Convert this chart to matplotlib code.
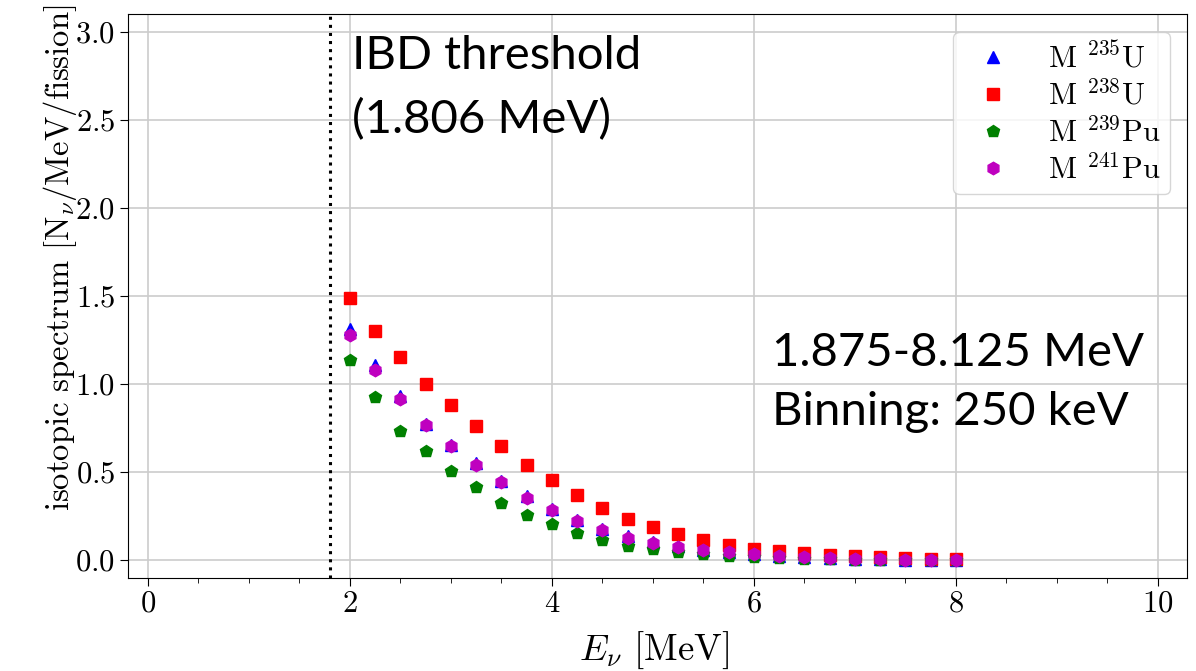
import matplotlib
matplotlib.use("Agg")
import matplotlib.pyplot as plt
from matplotlib.ticker import MultipleLocator

plt.rcParams['font.family'] = 'serif'
plt.rcParams['font.serif'] = ['cmr10']
plt.rcParams['mathtext.fontset'] = 'cm'
plt.rcParams['axes.formatter.use_mathtext'] = True

# bin centres (MeV)
energy = [2.0, 2.25, 2.5, 2.75, 3.0, 3.25, 3.5, 3.75, 4.0, 4.25, 4.5, 4.75, 5.0,
          5.25, 5.5, 5.75, 6.0, 6.25, 6.5, 6.75, 7.0, 7.25, 7.5, 7.75, 8.0]

u235 = [1.31, 1.11, 0.93, 0.775, 0.655, 0.55, 0.45, 0.365, 0.29, 0.228, 0.177, 0.135, 0.104,
        0.079, 0.059, 0.044, 0.032, 0.024, 0.017, 0.012, 0.008, 0.005, 0.003, 0.002, 0.001]
u238 = [1.485, 1.303, 1.154, 1.002, 0.878, 0.763, 0.645, 0.541, 0.455, 0.37, 0.294, 0.233, 0.186,
        0.146, 0.114, 0.087, 0.065, 0.05, 0.038, 0.029, 0.021, 0.015, 0.01, 0.007, 0.005]
pu239 = [1.138, 0.926, 0.734, 0.617, 0.508, 0.414, 0.326, 0.256, 0.203, 0.155, 0.114, 0.082, 0.062,
         0.045, 0.033, 0.024, 0.017, 0.012, 0.008, 0.005, 0.003, 0.002, 0.001, 0.001, 0.0]
pu241 = [1.28, 1.077, 0.914, 0.768, 0.649, 0.541, 0.442, 0.351, 0.285, 0.224, 0.171, 0.123, 0.095,
         0.075, 0.057, 0.044, 0.032, 0.024, 0.017, 0.012, 0.008, 0.005, 0.003, 0.002, 0.001]

ibd_threshold = 1.806

W, H = 1196, 671
fig = plt.figure(figsize=(W / 100, H / 100), dpi=100)
ax = fig.add_axes([127.5 / W, (H - 577.7) / H, (1187 - 127.5) / W, (577.7 - 14) / H])

ax.plot(energy, u235, '^', color='b', ms=9, label=r'M $^{235}$U')
ax.plot(energy, u238, 's', color='r', ms=9, label=r'M $^{238}$U')
ax.plot(energy, pu239, 'p', color='g', ms=9, label=r'M $^{239}$Pu')
ax.plot(energy, pu241, 'h', color='m', ms=9, label=r'M $^{241}$Pu')

ax.axvline(ibd_threshold, color='k', linestyle=':', linewidth=2.2)

ax.text(2.02, 2.98, 'IBD threshold\n(1.806 MeV)', family='Lato', fontsize=34,
        va='top', ha='left', linespacing=1.6)
ax.text(6.18, 1.296, '1.875-8.125 MeV\nBinning: 250 keV', family='Lato', fontsize=34,
        va='top', ha='left', linespacing=1.52)

ax.set_xlim(-0.203, 10.29)
ax.set_ylim(-0.1, 3.1)
ax.xaxis.set_major_locator(MultipleLocator(2))
ax.xaxis.set_minor_locator(MultipleLocator(0.5))
ax.yaxis.set_major_locator(MultipleLocator(0.5))
ax.tick_params(labelsize=22, length=5.5)
ax.tick_params(which='minor', length=3.5)
ax.grid(color='#cccccc', linewidth=1.2)
ax.set_axisbelow(True)

ax.set_xlabel(r'$E_\nu$ [MeV]', fontsize=26.5)
ax.xaxis.set_label_coords(0.497, -0.093)
ax.set_ylabel(r'isotopic spectrum [N$_\nu$/MeV/fission]', fontsize=23.5)
ax.yaxis.set_label_coords(-0.046, 0.567)

ax.legend(loc='upper right', bbox_to_anchor=(1170 / W, 1 - 32 / H),
          bbox_transform=fig.transFigure, borderaxespad=0,
          fontsize=22, labelspacing=0.2, borderpad=0.3)

fig.savefig('out.png', dpi=100)
